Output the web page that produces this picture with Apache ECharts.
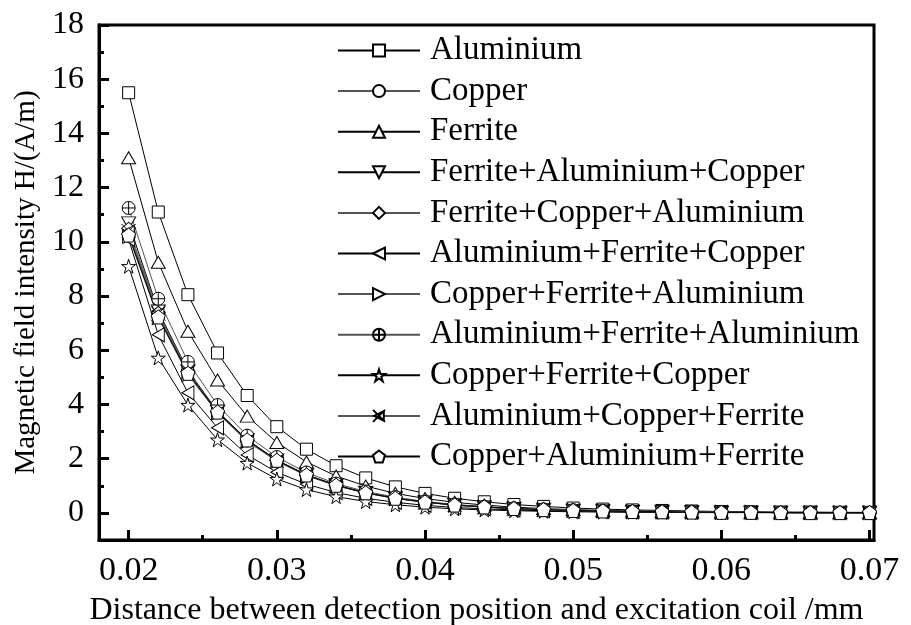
<!DOCTYPE html>
<html>
<head>
<meta charset="utf-8">
<script src="https://cdn.jsdelivr.net/npm/echarts@6/dist/echarts.min.js"></script>
<style>html,body{margin:0;padding:0;background:#fff}#c{width:911px;height:625px}</style>
</head>
<body>
<div id="c"></div>
<script>
const xValues = [0.020,0.022,0.024,0.026,0.028,0.030,0.032,0.034,0.036,0.038,0.040,0.042,0.044,0.046,0.048,0.050,0.052,0.054,0.056,0.058,0.060,0.062,0.064,0.066,0.068,0.070];
const aluminium = [15.5,11.1,8.05,5.9,4.33,3.18,2.35,1.74,1.29,0.96,0.72,0.54,0.41,0.31,0.24,0.18,0.14,0.11,0.09,0.07,0.05,0.04,0.03,0.03,0.02,0.02];
const copper = [10.3,7.3,5.2,3.72,2.67,1.93,1.4,1.02,0.74,0.54,0.4,0.29,0.22,0.16,0.12,0.09,0.07,0.05,0.04,0.03,0.02,0.02,0.01,0.01,0.01,0.01];
const ferrite = [13.1,9.25,6.7,4.9,3.57,2.6,1.88,1.36,0.99,0.72,0.53,0.39,0.29,0.21,0.16,0.12,0.09,0.07,0.05,0.04,0.03,0.02,0.02,0.01,0.01,0.01];
const feAlCu = [10.7,7.45,5.25,3.75,2.7,1.95,1.41,1.03,0.75,0.55,0.4,0.3,0.22,0.16,0.12,0.09,0.07,0.05,0.04,0.03,0.02,0.02,0.01,0.01,0.01,0.01];
const feCuAl = [10.5,7.4,5.22,3.73,2.68,1.94,1.4,1.02,0.74,0.54,0.4,0.29,0.22,0.16,0.12,0.09,0.07,0.05,0.04,0.03,0.02,0.02,0.01,0.01,0.01,0.01];
const alFeCu = [10.1,6.57,4.43,3.14,2.14,1.5,1.06,0.75,0.54,0.39,0.28,0.2,0.15,0.11,0.08,0.06,0.05,0.04,0.03,0.02,0.02,0.01,0.01,0.01,0.01,0.01];
const cuFeAl = [10.2,7.2,5.1,3.68,2.64,1.9,1.37,1.0,0.73,0.53,0.39,0.29,0.21,0.16,0.12,0.09,0.07,0.05,0.04,0.03,0.02,0.02,0.01,0.01,0.01,0.01];
const alFeAl = [11.25,7.9,5.57,3.98,2.85,2.06,1.49,1.08,0.79,0.58,0.42,0.31,0.23,0.17,0.13,0.1,0.07,0.05,0.04,0.03,0.02,0.02,0.01,0.01,0.01,0.01];
const cuFeCu = [9.1,5.72,3.98,2.7,1.84,1.25,0.86,0.6,0.42,0.3,0.21,0.15,0.11,0.08,0.06,0.04,0.03,0.02,0.02,0.01,0.01,0.01,0.01,0.0,0.0,0.0];
const alCuFe = [10.4,7.35,5.18,3.7,2.66,1.92,1.39,1.01,0.74,0.54,0.39,0.29,0.21,0.16,0.12,0.09,0.07,0.05,0.04,0.03,0.02,0.02,0.01,0.01,0.01,0.01];
const cuAlFe = [10.25,7.23,5.15,3.72,2.69,1.94,1.4,1.02,0.74,0.54,0.4,0.29,0.22,0.16,0.12,0.09,0.07,0.05,0.04,0.03,0.02,0.02,0.01,0.01,0.01,0.01];
const seriesNames = ['Aluminium','Copper','Ferrite','Ferrite+Aluminium+Copper','Ferrite+Copper+Aluminium','Aluminium+Ferrite+Copper','Copper+Ferrite+Aluminium','Aluminium+Ferrite+Aluminium','Copper+Ferrite+Copper','Aluminium+Copper+Ferrite','Copper+Aluminium+Ferrite'];
const xMajorTicks = [0.02,0.03,0.04,0.05,0.06,0.07];
const xMinorTicks = [0.025,0.035,0.045,0.055,0.065];
const yMajorTicks = [0,2,4,6,8,10,12,14,16,18];
const yMinorTicks = [1,3,5,7,9,11,13,15,17];

const seriesValues = [aluminium,copper,ferrite,feAlCu,feCuAl,alFeCu,cuFeAl,alFeAl,cuFeCu,alCuFe,cuAlFe];
const symbols = [
  'rect','circle','triangle',
  'path://M0,0L10,0L5,8.66Z',
  'diamond',
  'path://M0,5L8.66,0L8.66,10Z',
  'path://M0,0L8.66,5L0,10Z',
  'path://M10,0A10,10,0,1,1,10,20A10,10,0,1,1,10,0ZM10,0L10,20M0,10L20,10',
  'path://M10,0L12.245,6.91L19.511,6.91L13.633,11.18L15.878,18.09L10,13.82L4.122,18.09L6.367,11.18L0.489,6.91L7.755,6.91Z',
  'path://M0,0L20,20M0,20L20,0M2,10L18,2L18,18Z',
  'path://M10,0L19.511,6.91L15.878,18.09L4.122,18.09L0.489,6.91Z'
];
const sizes = [12,13,[14,12],[14,12],[14,12],[12,14],[12,14],13,14,14,14];
const lineColors = ['#000','#555','#000','#000','#555','#000','#555','#555','#000','#555','#000'];
const FONT = 'Liberation Serif';

const series = seriesNames.map((n,i)=>({
  name:n, type:'line',
  data: xValues.map((x,j)=>[x, seriesValues[i][j]]),
  symbol: symbols[i], symbolSize: sizes[i],
  lineStyle:{color:lineColors[i], width:1},
  itemStyle:{color:'#fff', borderColor:'#000', borderWidth:1},
  emphasis:{disabled:true},
  animation:false, z: 2
}));

const axisCommon = {
  axisLine:{show:true, onZero:false, lineStyle:{color:'#000', width:3}},
  splitLine:{show:false}
};

const option = {
  animation:false,
  backgroundColor:'#fff',
  grid:{left:99, right:37, top:25, bottom:85, show:true, borderColor:'#000', borderWidth:3, backgroundColor:'transparent', outerBoundsMode:'none', containLabel:false},
  legend:{
    orient:'vertical', left:332, top:29,
    itemWidth:82, itemHeight:15, itemGap:7.6,
    textStyle:{fontFamily:FONT, fontSize:33, color:'#000', lineHeight:33, padding:[0,0,0,5]},
    data: seriesNames
  },
  xAxis:[
    Object.assign({}, axisCommon, {
      type:'value', min:0.018, max:0.0703,
      name:'Distance between detection position and excitation coil /mm',
      nameLocation:'middle', nameGap:55,
      nameTextStyle:{fontFamily:FONT, fontSize:32, color:'#000', padding:[0,20,0,0]},
      axisTick:{show:true, inside:true, length:10, lineStyle:{width:3, color:'#000'}, customValues:xMajorTicks},
      axisLabel:{fontFamily:FONT, fontSize:34, color:'#000', margin:14, customValues:xMajorTicks, formatter:v=>v.toFixed(2)}
    }),
    Object.assign({}, axisCommon, {
      type:'value', min:0.018, max:0.0703, position:'bottom',
      axisTick:{show:true, inside:true, length:5, lineStyle:{width:3, color:'#000'}, customValues:xMinorTicks},
      axisLabel:{show:false}
    })
  ],
  yAxis:[
    Object.assign({}, axisCommon, {
      type:'value', min:-1, max:18,
      name:'Magnetic field intensity H/(A/m)',
      nameLocation:'middle', nameGap:41,
      nameTextStyle:{fontFamily:FONT, fontSize:29, color:'#000'},
      axisTick:{show:true, inside:true, length:10, lineStyle:{width:3, color:'#000'}, customValues:yMajorTicks},
      axisLabel:{fontFamily:FONT, fontSize:32, color:'#000', margin:15, customValues:yMajorTicks}
    }),
    Object.assign({}, axisCommon, {
      type:'value', min:-1, max:18, position:'left',
      axisTick:{show:true, inside:true, length:5, lineStyle:{width:3, color:'#000'}, customValues:yMinorTicks},
      axisLabel:{show:false}
    })
  ],
  series: series
};
const chart = echarts.init(document.getElementById('c'), null, {renderer:'canvas'});
chart.setOption(option);
</script>
</body>
</html>
